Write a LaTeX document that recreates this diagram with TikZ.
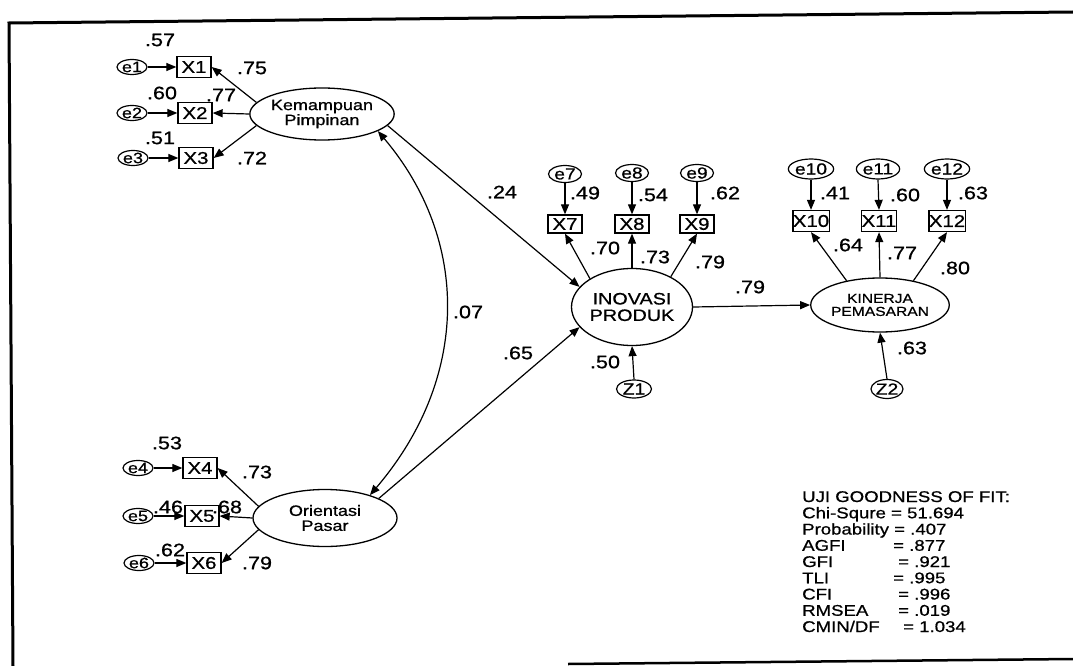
\documentclass[tikz,border=0pt]{standalone}
\usepackage{fontspec}
\setmainfont{Liberation Sans}[FakeStretch=1.2,FakeBold=0.8]
\usetikzlibrary{shapes.geometric,arrows.meta}
\newcommand{\fsz}[1]{\fontsize{#1}{#1}\selectfont}
\begin{document}
\begin{tikzpicture}[x=1pt,y=-1pt,
 lat/.style={ellipse,draw,line width=1.3pt,inner sep=0pt,align=center},
 err/.style={ellipse,draw,line width=1.2pt,inner sep=0pt,minimum width=30pt,minimum height=15pt,font=\fsz{15}},
 errb/.style={err,minimum width=33pt,minimum height=20pt,font=\fsz{16}},
 obs/.style={rectangle,draw,line width=1.3pt,inner sep=0pt,minimum width=34pt,minimum height=21pt,font=\fsz{17}},
 obsb/.style={obs,minimum height=18pt},
 lbl/.style={inner sep=0pt,font=\fsz{18}},
 arr/.style={-{Triangle[length=10pt,width=8pt]},line width=1.2pt},
 dar/.style={{Triangle[length=10pt,width=8pt]}-{Triangle[length=10pt,width=8pt]},line width=1.2pt},
 gof/.style={inner sep=0pt,anchor=base west,font=\fsz{15.5}}]
\useasboundingbox (0,0) rectangle (1073,666);
% frame
\draw[line width=3pt] (1073,12) -- (9,23) -- (13,666);
\draw[line width=2.5pt] (568,664) -- (1073,659);
% Kemampuan Pimpinan block
\node[lat,minimum width=140pt,minimum height=52pt,font=\fsz{15}] (KP) at (322,114) {Kemampuan\\Pimpinan};
\node[err] (e1) at (132,67) {e1};
\node[obs] (X1) at (194,67) {X1};
\node[err] (e2) at (132,113) {e2};
\node[obs] (X2) at (195,113) {X2};
\node[err] (e3) at (133,158) {e3};
\node[obs] (X3) at (196,158) {X3};
% Orientasi Pasar block
\node[lat,minimum width=144pt,minimum height=57pt,font=\fsz{15}] (OP) at (325,518) {Orientasi\\Pasar};
\node[err] (e4) at (138,468) {e4};
\node[obs] (X4) at (200,468) {X4};
\node[err] (e5) at (138,516) {e5};
\node[obs] (X5) at (202,516) {X5};
\node[err] (e6) at (139,563) {e6};
\node[obs] (X6) at (204,563) {X6};
% Inovasi Produk block
\node[lat,minimum width=121pt,minimum height=77pt,font=\fsz{16.5}] (IP) at (632,307) {INOVASI\\PRODUK};
\node[err,minimum width=33pt,minimum height=17pt,font=\fsz{16}] (e7) at (565,174) {e7};
\node[err,minimum width=33pt,minimum height=17pt,font=\fsz{16}] (e8) at (632,173) {e8};
\node[err,minimum width=33pt,minimum height=17pt,font=\fsz{16}] (e9) at (697,173) {e9};
\node[obsb] (X7) at (565,224) {X7};
\node[obsb] (X8) at (632,224) {X8};
\node[obsb] (X9) at (697,224) {X9};
\node[err,minimum width=35pt,minimum height=18pt,font=\fsz{16}] (Z1) at (634,389) {Z1};
% Kinerja Pemasaran block
\node[lat,minimum width=100pt,minimum height=54pt,font=\fsz{13}] (KN) at (880,305) {KINERJA\\PEMASARAN};
\node[errb] (e10) at (811,169) {e10};
\node[errb] (e11) at (878,169) {e11};
\node[errb] (e12) at (947,169) {e12};
\node[obs] (X10) at (811,221) {X10};
\node[obs] (X11) at (879,221) {X11};
\node[obs] (X12) at (947,221) {X12};
\node[err,minimum width=32pt,minimum height=19pt,font=\fsz{16}] (Z2) at (887,389) {Z2};
% error arrows
\foreach \e/\x in {e1/X1,e2/X2,e3/X3,e4/X4,e5/X5,e6/X6}
  \draw[arr] (\e.east) -- (\x.west);
\foreach \e/\x in {e7/X7,e8/X8,e9/X9,e10/X10,e11/X11,e12/X12}
  \draw[arr] (\e.south) -- (\x.north);
% loadings
\draw[arr] (KP.170) -- (X1.east);
\draw[arr] (KP.west) -- (X2.east);
\draw[arr] (KP.190) -- (X3.east);
\draw[arr] (OP.170) -- (X4.east);
\draw[arr] (OP.west) -- (X5.east);
\draw[arr] (OP.190) -- (X6.east);
\draw[arr] (IP.146) -- (X7.south);
\draw[arr] (IP.north) -- (X8.south);
\draw[arr] (IP.38) -- (X9.south);
\draw[arr] (KN.144) -- (X10.south);
\draw[arr] (KN.north) -- (X11.south);
\draw[arr] (KN.36) -- (X12.south);
% structural paths
\draw[arr] (KP.-10) -- (IP.159);
\draw[arr] (OP.20) -- (IP.201);
\draw[arr] (IP.east) -- (KN.west);
\draw[arr] (Z1.north) -- (IP.south);
\draw[arr] (Z2.north) -- (KN.south);
\draw[dar] (KP.-17) .. controls (470,240) and (470,378) .. (OP.27);
% labels
\node[lbl] (l1) at (160,40) {.57};
\node[lbl] (l2) at (252,68) {.75};
\node[lbl] (l3) at (162,93) {.60};
\node[lbl] (l4) at (221,95) {.77};
\node[lbl] (l5) at (160,138) {.51};
\node[lbl] (l6) at (252,158) {.72};
\node[lbl] (l7) at (167,443) {.53};
\node[lbl] (l8) at (257,472) {.73};
\node[lbl] (l9) at (168,507) {.46};
\node[lbl] (l10) at (227,507) {.68};
\node[lbl] (l11) at (170,550) {.62};
\node[lbl] (l12) at (257,563) {.79};
\node[lbl] (l13) at (502,192) {.24};
\node[lbl] (l14) at (468,312) {.07};
\node[lbl] (l15) at (518,353) {.65};
\node[lbl] (l16) at (585,193) {.49};
\node[lbl] (l17) at (653,195) {.54};
\node[lbl] (l18) at (725,193) {.62};
\node[lbl] (l19) at (605,248) {.70};
\node[lbl] (l20) at (655,257) {.73};
\node[lbl] (l21) at (710,262) {.79};
\node[lbl] (l22) at (605,362) {.50};
\node[lbl] (l23) at (750,287) {.79};
\node[lbl] (l24) at (835,193) {.41};
\node[lbl] (l25) at (905,195) {.60};
\node[lbl] (l26) at (973,193) {.63};
\node[lbl] (l27) at (848,245) {.64};
\node[lbl] (l28) at (902,253) {.77};
\node[lbl] (l29) at (955,268) {.80};
\node[lbl] (l30) at (912,348) {.63};
% goodness of fit
\node[gof] (g0) at (802,502) {UJI GOODNESS OF FIT:};
\node[gof] (g1) at (802,518.25) {Chi-Squre = 51.694};
\node[gof] (g2) at (802,534.5) {Probability = .407};
\node[gof] (g3) at (802,550.75) {AGFI};
\node[gof] (g3v) at (893,550.75) {= .877};
\node[gof] (g4) at (802,567) {GFI};
\node[gof] (g4v) at (898,567) {= .921};
\node[gof] (g5) at (802,583.25) {TLI};
\node[gof] (g5v) at (893,583.25) {= .995};
\node[gof] (g6) at (802,599.5) {CFI};
\node[gof] (g6v) at (898,599.5) {= .996};
\node[gof] (g7) at (802,615.75) {RMSEA};
\node[gof] (g7v) at (898,615.75) {= .019};
\node[gof] (g8) at (802,632) {CMIN/DF};
\node[gof] (g8v) at (903,632) {= 1.034};
\end{tikzpicture}
\end{document}
